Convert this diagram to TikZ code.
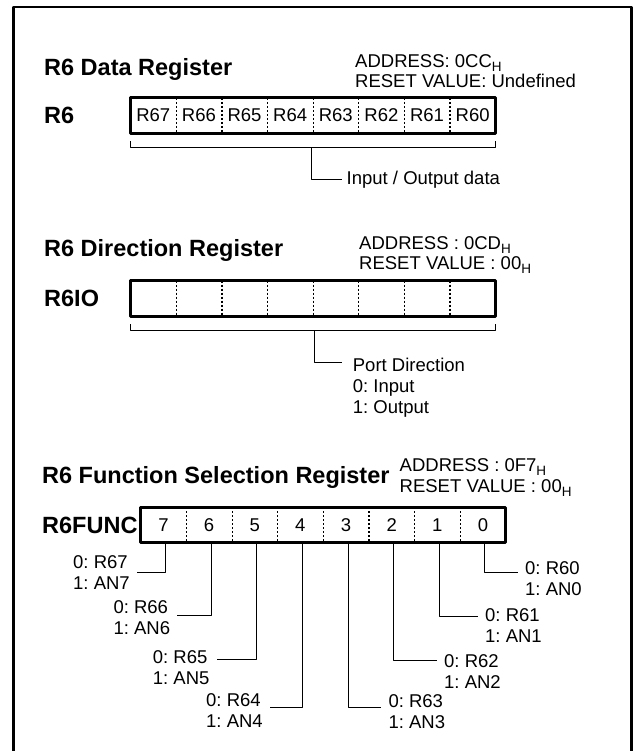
\documentclass[tikz,border=0pt]{standalone}
\usepackage{fontspec}
\setmainfont{Liberation Sans}
\frenchspacing
\usetikzlibrary{positioning}
\newcommand{\regsub}[1]{\raisebox{-4pt}{\fontsize{13.5}{13.5}\selectfont #1}}
\tikzset{
  every picture/.style={line join=round},
  frameline/.style={line width=2.4pt},
  regbox/.style={line width=3pt},
  divider/.style={line width=1.2pt, dash pattern=on 2pt off 2pt},
  bracket/.style={line width=1pt},
  cell/.style={minimum width=45.625pt, minimum height=35pt, inner sep=0pt, font=\fontsize{18.5}{21}\selectfont},
  title/.style={inner sep=0pt, font=\bfseries\fontsize{23.5}{28}\selectfont},
  txt/.style={inner sep=0pt, align=left, font=\fontsize{18.5}{21}\selectfont},
}

\begin{document}
\begin{tikzpicture}[x=1pt,y=-1pt]
\useasboundingbox (0,0) rectangle (634,751);
\draw[frameline] (13.5,751) -- (13.5,7) -- (631.5,7) -- (631.5,751);

\node[title,anchor=base west] (t1) at (44,76) {R6 Data Register};
\node[txt,anchor=base west] (a1) at (355,68) {ADDRESS: 0CC\regsub{H}};
\node[txt,anchor=base west] (r1) at ([yshift=-20pt]a1.base west) {RESET VALUE: Undefined};
\node[title,anchor=west] (n1) at (44,115.5) {R6};
\foreach \bit [count=\k from 0] in {7,6,...,0}
  \node[cell] (d\bit) at ({130.5+45.625*(\k+0.5)},115.5) {R6\bit};
\foreach \bit in {7,6,...,1}
  \draw[divider] (d\bit.north east) -- (d\bit.south east);
\draw[regbox] (d7.north west) rectangle (d0.south east);
\draw[bracket] ([yshift=-8pt]d7.south west) -- ([yshift=-14pt]d7.south west) -- ([yshift=-14pt]d0.south east) -- ([yshift=-8pt]d0.south east);
\coordinate (dmid) at ([xshift=-1.5pt,yshift=-14pt]d3.south west);
\node[txt,anchor=west] (io) at (346.5,179.5) {Input / Output data};
\draw[bracket] (dmid) |- ([xshift=-4.5pt]io.west);

\node[title,anchor=base west] (t2) at (44,256.7) {R6 Direction Register};
\node[txt,anchor=base west] (a2) at (359,249) {ADDRESS : 0CD\regsub{H}};
\node[txt,anchor=base west] (r2) at ([yshift=-20pt]a2.base west) {RESET VALUE : 00\regsub{H}};
\node[title,anchor=west] (n2) at (44,298.4) {R6IO};
\foreach \bit [count=\k from 0] in {7,6,...,0}
  \node[cell] (o\bit) at ({130.5+45.625*(\k+0.5)},298.4) {};
\foreach \bit in {7,6,...,1}
  \draw[divider] (o\bit.north east) -- (o\bit.south east);
\draw[regbox] (o7.north west) rectangle (o0.south east);
\draw[bracket] ([yshift=-8pt]o7.south west) -- ([yshift=-14pt]o7.south west) -- ([yshift=-14pt]o0.south east) -- ([yshift=-8pt]o0.south east);
\coordinate (omid) at ([xshift=1.5pt,yshift=-14pt]o3.south west);
\node[txt,anchor=north west] (pd) at (352.7,357.4) {Port Direction\\0: Input\\1: Output};
\draw[bracket] (omid) |- ([xshift=-11pt,yshift=-5.5pt]pd.north west);

\node[title,anchor=base west] (t3) at (42,483) {R6 Function Selection Register};
\node[txt,anchor=base west] (a3) at (399.5,471.7) {ADDRESS : 0F7\regsub{H}};
\node[txt,anchor=base west] (r3) at ([yshift=-20.3pt]a3.base west) {RESET VALUE : 00\regsub{H}};
\node[title,anchor=west] (n3) at (42,525) {R6FUNC};
\foreach \bit [count=\k from 0] in {7,6,...,0}
  \node[cell] (f\bit) at ({140.7+45.625*(\k+0.5)},525) {\bit};
\foreach \bit in {7,6,...,1}
  \draw[divider] (f\bit.north east) -- (f\bit.south east);
\draw[regbox] (f7.north west) rectangle (f0.south east);
\foreach \bit/\x/\y in {7/73/572.5, 6/113.3/617.5, 5/152.7/668, 4/206/710.5, 3/388.3/712, 2/444/672, 1/485/625.5, 0/525/579}
  \node[txt,anchor=west] (l\bit) at (\x,\y) {0: R6\bit\\1: AN\bit};
\foreach \bit/\s/\g/\d in {7/east/7/0.5, 6/east/7/2.5, 5/east/7/9, 4/east/7/2.8, 3/west/-7/4.3, 2/west/-7/11.3, 1/west/-7/9.5, 0/west/-7/6.3}
  \draw[bracket] ([xshift=2pt]f\bit.south) |- ([xshift=\g pt,yshift=\d pt]l\bit.\s);
\end{tikzpicture}
\end{document}
